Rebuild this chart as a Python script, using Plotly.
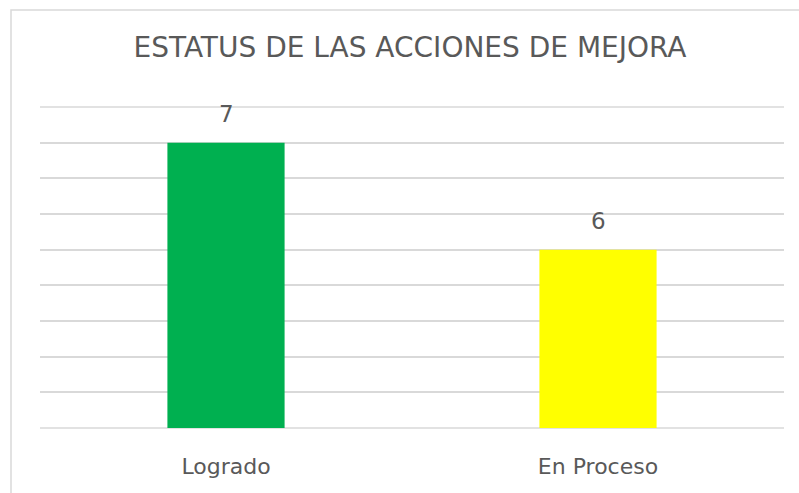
import plotly.graph_objects as go

categories = ["Logrado", "En Proceso"]
values = [7, 6]
colors = ["#00B050", "#FFFF00"]
title_text = "ESTATUS DE LAS ACCIONES DE MEJORA"

y_min, y_max, y_step = 13/3, 22/3, 1/3

FONT = "DejaVu Sans"
TXT = "#595959"
GRID = "#D9D9D9"

fig = go.Figure()
fig.add_trace(go.Bar(
    x=categories, y=values, marker=dict(color=colors, line=dict(width=0)),
    width=0.315, hoverinfo="skip",
))
for c, v in zip(categories, values):
    fig.add_annotation(x=c, y=v, text=str(v), showarrow=False, yanchor="bottom",
                       yshift=14, font=dict(family=FONT, size=23, color=TXT))

W, H = 799, 493
ml, mr, mt, mb = 40, 15, 107, 65
pw, ph = W - ml - mr, H - mt - mb
def px2x(px):
    return (px - ml) / pw
def py2y(py):
    return (H - mb - py) / ph

# edge gridlines (bottom and top of value axis), drawn in paper space so not clipped
for yv in (y_min, y_max):
    yp = (yv - y_min) / (y_max - y_min)
    fig.add_shape(type="line", xref="paper", yref="paper", x0=0, x1=1, y0=yp, y1=yp,
                  line=dict(color=GRID, width=1.5), layer="below")

# chart-area border (clipped by the image at right and bottom)
fig.add_shape(type="path", xref="paper", yref="paper",
              path=f"M {px2x(11)} {py2y(500)} L {px2x(11)} {py2y(10)} L {px2x(810)} {py2y(10)}",
              line=dict(color=GRID, width=1.5))

fig.update_layout(
    width=W, height=H,
    margin=dict(l=ml, r=mr, t=mt, b=mb),
    paper_bgcolor="white", plot_bgcolor="white",
    showlegend=False,
    title=dict(text=title_text, x=410 / W, xanchor="center", y=1 - 47 / H, yanchor="middle",
               font=dict(family=FONT, size=28, color=TXT)),
    xaxis=dict(showgrid=False, showline=False, ticks="", zeroline=False,
               tickfont=dict(family=FONT, size=22, color=TXT), ticklabelstandoff=23),
    yaxis=dict(range=[y_min, y_max], dtick=y_step, tick0=y_min, showticklabels=False,
               showgrid=True, gridcolor=GRID, gridwidth=1.5, zeroline=False, showline=False),
)
fig.write_html("out.html")
